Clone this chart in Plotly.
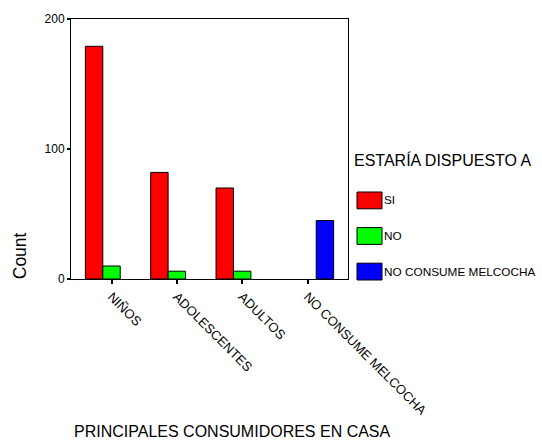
import plotly.graph_objects as go

categories = ["NIÑOS", "ADOLESCENTES", "ADULTOS", "NO CONSUME MELCOCHA"]
series_names = ["SI", "NO", "NO CONSUME MELCOCHA"]
si_values = [179, 82, 70, None]
no_values = [10, 6, 6, None]
nc_values = [None, None, None, 45]
colors = ["#FF0000", "#00FF00", "#0000FF"]
y_ticks = [0, 100, 200]

W, H = 542, 445
L, R, T, B = 71, 348, 16, 279
FONT = "Liberation Sans, Arial, sans-serif"

def px(x):
    return (x - L) / (R - L)

def py(y):
    return (B - y) / (B - T)

fig = go.Figure()
for name, vals, col in zip(series_names, [si_values, no_values, nc_values], colors):
    fig.add_trace(go.Bar(
        x=list(range(len(categories))), y=vals, name=name,
        marker=dict(color=col, line=dict(color="black", width=1)),
        showlegend=False,
    ))

fig.update_layout(
    width=W, height=H,
    margin=dict(l=L, r=W - R, t=T, b=H - B),
    paper_bgcolor="white", plot_bgcolor="white",
    barmode="group", bargap=0.2, bargroupgap=0,
    font=dict(family=FONT, size=12, color="black"),
    xaxis=dict(
        range=[-0.62, 3.62], tickmode="array",
        tickvals=list(range(len(categories))), ticktext=categories,
        tickangle=45, ticks="outside", ticklen=4, tickwidth=2, tickcolor="black",
        showline=True, linecolor="black", linewidth=1, mirror=True,
        showgrid=False, zeroline=False, tickfont=dict(size=13),
    ),
    yaxis=dict(
        range=[0, 200], tickvals=y_ticks, ticks="outside", ticklen=3,
        tickwidth=2, tickcolor="black",
        showline=True, linecolor="black", linewidth=1, mirror=True,
        showgrid=False, zeroline=False, tickfont=dict(size=12),
    ),
)

ann = []
ann.append(dict(text="Count", x=px(20), y=py(256), xref="paper", yref="paper",
                textangle=-90, showarrow=False, font=dict(size=17.5),
                xanchor="center", yanchor="middle"))
ann.append(dict(text="PRINCIPALES CONSUMIDORES EN CASA", x=px(232), y=py(433),
                xref="paper", yref="paper", showarrow=False, font=dict(size=16),
                xanchor="center", yanchor="middle"))
ann.append(dict(text="ESTARÍA DISPUESTO A", x=px(352), y=py(159), xref="paper",
                yref="paper", showarrow=False, font=dict(size=16),
                xanchor="left", yanchor="middle"))

shapes = []
sw_tops = [191, 227, 263]
for name, col, top in zip(series_names, colors, sw_tops):
    shapes.append(dict(type="rect", xref="paper", yref="paper",
                       x0=px(357), x1=px(382), y0=py(top), y1=py(top + 17),
                       fillcolor=col, line=dict(color="black", width=1)))
    ann.append(dict(text=name, x=px(382), y=py(top + 8.5), xref="paper",
                    yref="paper", showarrow=False, font=dict(size=11.8),
                    xanchor="left", yanchor="middle"))

fig.update_layout(annotations=ann, shapes=shapes)
fig.write_html("out.html", config={"displayModeBar": False},
               post_script="document.body.style.margin='0';document.body.style.overflow='hidden';")
